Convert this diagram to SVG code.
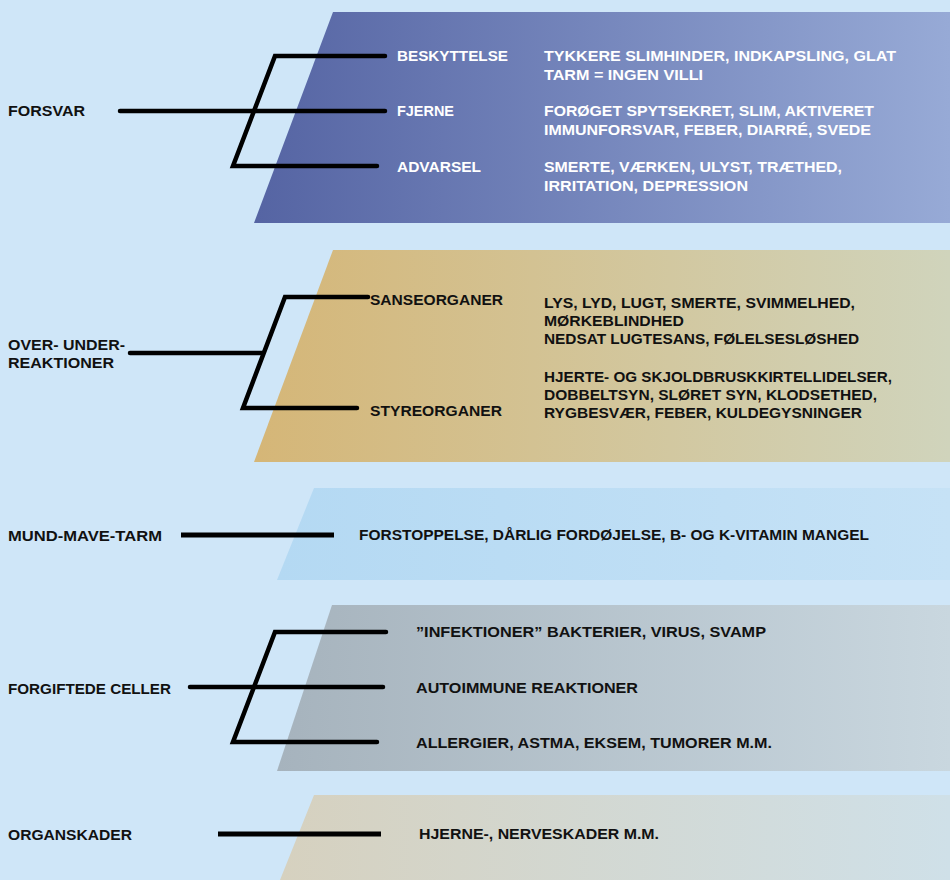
<svg xmlns="http://www.w3.org/2000/svg" width="950" height="880" viewBox="0 0 950 880">
<defs>
<linearGradient id="g1" x1="0" y1="0" x2="1" y2="0"><stop offset="0" stop-color="#5564a3"/><stop offset="1" stop-color="#97aad6"/></linearGradient>
<linearGradient id="g2" x1="0" y1="0" x2="1" y2="0"><stop offset="0" stop-color="#d5b677"/><stop offset="1" stop-color="#d0d4bc"/></linearGradient>
<linearGradient id="g3" x1="0" y1="0" x2="1" y2="0"><stop offset="0" stop-color="#b4d9f3"/><stop offset="1" stop-color="#c6e2f6"/></linearGradient>
<linearGradient id="g4" x1="0" y1="0" x2="1" y2="0"><stop offset="0" stop-color="#a6b3bd"/><stop offset="1" stop-color="#c9d7df"/></linearGradient>
<linearGradient id="g5" x1="0" y1="0" x2="1" y2="0"><stop offset="0" stop-color="#d6d1bf"/><stop offset="1" stop-color="#cfe0e8"/></linearGradient>
</defs>
<style>
text{font-family:"Liberation Sans",Arial,sans-serif;font-weight:bold;font-size:15px;fill:#111}
.w{fill:#fff}
.ln{fill:none;stroke:#000;stroke-width:4.5;stroke-linecap:round;stroke-linejoin:miter}
</style>
<rect width="950" height="880" fill="#cfe6f8"/>
<g id="bands">
<polygon points="333,12 950,12 950,223 254,223" fill="url(#g1)"/>
<polygon points="333,250 950,250 950,462 254,462" fill="url(#g2)"/>
<polygon points="314,488 950,488 950,580 277,580" fill="url(#g3)"/>
<polygon points="332,605 950,605 950,771 277,771" fill="url(#g4)"/>
<polygon points="314,795 950,795 950,880 280,880" fill="url(#g5)"/>
</g>
<g id="connectors">
<line class="ln" x1="120" y1="111" x2="385" y2="111"/>
<polyline class="ln" points="385,56 275,56 233,166 377,166"/>
<line class="ln" x1="130" y1="353" x2="263" y2="353"/>
<polyline class="ln" points="368,297 285,297 243,408 357,408"/>
<line class="ln" x1="181" y1="535" x2="334" y2="535" style="stroke-width:5;stroke-linecap:butt"/>
<line class="ln" x1="190" y1="687" x2="383" y2="687"/>
<polyline class="ln" points="386,632 275,632 233,742 377,742"/>
<line class="ln" x1="218" y1="834" x2="381" y2="834" style="stroke-width:5;stroke-linecap:butt"/>
</g>
<g id="forsvar">
<text x="8" y="116" textLength="77" lengthAdjust="spacingAndGlyphs">FORSVAR</text>
</g>
<g id="beskyttelse">
<text class="w" x="397" y="61" textLength="111" lengthAdjust="spacingAndGlyphs">BESKYTTELSE</text>
<text class="w" x="544" y="61" textLength="352" lengthAdjust="spacingAndGlyphs">TYKKERE SLIMHINDER, INDKAPSLING, GLAT</text>
<text class="w" x="544" y="80" textLength="159" lengthAdjust="spacingAndGlyphs">TARM = INGEN VILLI</text>
</g>
<g id="fjerne">
<text class="w" x="397" y="116" textLength="57" lengthAdjust="spacingAndGlyphs">FJERNE</text>
<text class="w" x="544" y="116" textLength="330" lengthAdjust="spacingAndGlyphs">FORØGET SPYTSEKRET, SLIM, AKTIVERET</text>
<text class="w" x="544" y="135" textLength="327" lengthAdjust="spacingAndGlyphs">IMMUNFORSVAR, FEBER, DIARRÉ, SVEDE</text>
</g>
<g id="advarsel">
<text class="w" x="397" y="172" textLength="84" lengthAdjust="spacingAndGlyphs">ADVARSEL</text>
<text class="w" x="544" y="172" textLength="298" lengthAdjust="spacingAndGlyphs">SMERTE, VÆRKEN, ULYST, TRÆTHED,</text>
<text class="w" x="544" y="191" textLength="204" lengthAdjust="spacingAndGlyphs">IRRITATION, DEPRESSION</text>
</g>
<g id="over-under">
<text x="8" y="350" textLength="117" lengthAdjust="spacingAndGlyphs">OVER- UNDER-</text>
<text x="8" y="368" textLength="106" lengthAdjust="spacingAndGlyphs">REAKTIONER</text>
</g>
<g id="sanseorganer">
<text x="370" y="305" textLength="133" lengthAdjust="spacingAndGlyphs">SANSEORGANER</text>
<text x="544" y="308" textLength="311" lengthAdjust="spacingAndGlyphs">LYS, LYD, LUGT, SMERTE, SVIMMELHED,</text>
<text x="544" y="326" textLength="140" lengthAdjust="spacingAndGlyphs">MØRKEBLINDHED</text>
<text x="544" y="344" textLength="315" lengthAdjust="spacingAndGlyphs">NEDSAT LUGTESANS, FØLELSESLØSHED</text>
</g>
<g id="styreorganer">
<text x="370" y="416" textLength="132" lengthAdjust="spacingAndGlyphs">STYREORGANER</text>
<text x="544" y="382" textLength="348" lengthAdjust="spacingAndGlyphs">HJERTE- OG SKJOLDBRUSKKIRTELLIDELSER,</text>
<text x="544" y="400" textLength="333" lengthAdjust="spacingAndGlyphs">DOBBELTSYN, SLØRET SYN, KLODSETHED,</text>
<text x="544" y="418" textLength="318" lengthAdjust="spacingAndGlyphs">RYGBESVÆR, FEBER, KULDEGYSNINGER</text>
</g>
<g id="mund-mave-tarm">
<text x="8" y="541" textLength="154" lengthAdjust="spacingAndGlyphs">MUND-MAVE-TARM</text>
<text x="359" y="540" textLength="510" lengthAdjust="spacingAndGlyphs">FORSTOPPELSE, DÅRLIG FORDØJELSE, B- OG K-VITAMIN MANGEL</text>
</g>
<g id="forgiftede-celler">
<text x="8" y="694" textLength="163" lengthAdjust="spacingAndGlyphs">FORGIFTEDE CELLER</text>
</g>
<g id="infektioner">
<text x="416" y="637" textLength="350" lengthAdjust="spacingAndGlyphs">”INFEKTIONER” BAKTERIER, VIRUS, SVAMP</text>
</g>
<g id="autoimmune">
<text x="416" y="693" textLength="222" lengthAdjust="spacingAndGlyphs">AUTOIMMUNE REAKTIONER</text>
</g>
<g id="allergier">
<text x="416" y="748" textLength="356" lengthAdjust="spacingAndGlyphs">ALLERGIER, ASTMA, EKSEM, TUMORER M.M.</text>
</g>
<g id="organskader">
<text x="8" y="840" textLength="124" lengthAdjust="spacingAndGlyphs">ORGANSKADER</text>
<text x="419" y="839" textLength="240" lengthAdjust="spacingAndGlyphs">HJERNE-, NERVESKADER M.M.</text>
</g>
</svg>
